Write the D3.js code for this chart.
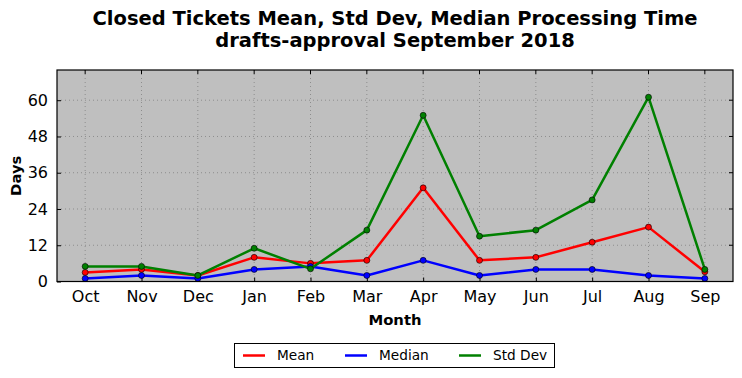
<!DOCTYPE html>
<html>
<head>
<meta charset="utf-8">
<script src="https://cdn.jsdelivr.net/npm/d3@7"></script>
<style>
  body { margin: 0; background: #fff; }
  svg { display: block; font-family: "DejaVu Sans", sans-serif; }
</style>
</head>
<body>
<svg width="742" height="378"></svg>
<script>
const months = ["Oct", "Nov", "Dec", "Jan", "Feb", "Mar", "Apr", "May", "Jun", "Jul", "Aug", "Sep"];
const meanValues = [3, 4, 2, 8, 6, 7, 31, 7, 8, 13, 18, 3.2];
const medianValues = [1, 2, 1, 4, 5, 2, 7, 2, 4, 4, 2, 1];
const stdDevValues = [5, 5, 2, 11, 4.2, 17, 55, 15, 17, 27, 61, 4];
const yTicks = [0, 12, 24, 36, 48, 60];

const series = [
  { name: "Mean", color: "#ff0000", values: meanValues },
  { name: "Median", color: "#0000ff", values: medianValues },
  { name: "Std Dev", color: "#008000", values: stdDevValues }
];

const svg = d3.select("svg");
const plotLeft = 57, plotRight = 733, plotTop = 70, plotBottom = 281.5;

const x = d3.scaleLinear().domain([-0.5, months.length - 0.5]).range([plotLeft, plotRight]);
const y = d3.scaleLinear().domain([0, 70]).range([plotBottom, plotTop]);

// plot background
svg.append("rect")
  .attr("x", plotLeft).attr("y", plotTop)
  .attr("width", plotRight - plotLeft).attr("height", plotBottom - plotTop)
  .attr("fill", "#bfbfbf");

// grid
const grid = svg.append("g");
grid.selectAll(".vg").data(months).enter().append("line")
  .attr("x1", (d, i) => x(i)).attr("x2", (d, i) => x(i))
  .attr("y1", plotTop).attr("y2", plotBottom)
  .attr("stroke", "#808080").attr("stroke-width", 0.8).attr("stroke-dasharray", "1,3");
grid.selectAll(".hg").data(yTicks).enter().append("line")
  .attr("x1", plotLeft).attr("x2", plotRight)
  .attr("y1", d => y(d)).attr("y2", d => y(d))
  .attr("stroke", "#808080").attr("stroke-width", 0.8).attr("stroke-dasharray", "1,3");

// axes
const xAxis = d3.axisBottom(x).tickValues(d3.range(months.length)).tickFormat(i => months[i])
  .tickSizeInner(-4).tickSizeOuter(0).tickPadding(9);
const yAxis = d3.axisLeft(y).tickValues(yTicks).tickSizeInner(-4).tickSizeOuter(0).tickPadding(9);

const gx = svg.append("g").attr("transform", `translate(0,${plotBottom})`).call(xAxis);
const gy = svg.append("g").attr("transform", `translate(${plotLeft},0)`).call(yAxis);
[gx, gy].forEach(g => {
  g.select(".domain").remove();
  g.selectAll("text").attr("font-size", 16).attr("fill", "#000").attr("font-family", "DejaVu Sans, sans-serif");
  g.selectAll("line").attr("stroke", "#000");
});

// ticks on top and right
svg.append("g").selectAll("line").data(months).enter().append("line")
  .attr("x1", (d, i) => x(i)).attr("x2", (d, i) => x(i))
  .attr("y1", plotTop).attr("y2", plotTop + 4).attr("stroke", "#000");
svg.append("g").selectAll("line").data(yTicks).enter().append("line")
  .attr("x1", plotRight).attr("x2", plotRight - 4)
  .attr("y1", d => y(d)).attr("y2", d => y(d)).attr("stroke", "#000");

// lines and markers
const line = d3.line().x((d, i) => x(i)).y(d => y(d));
series.forEach(s => {
  svg.append("path").datum(s.values)
    .attr("d", line).attr("fill", "none")
    .attr("stroke", s.color).attr("stroke-width", 2.5).attr("stroke-linejoin", "round");
  svg.append("g").selectAll("circle").data(s.values).enter().append("circle")
    .attr("cx", (d, i) => x(i)).attr("cy", d => y(d)).attr("r", 3)
    .attr("fill", s.color).attr("stroke", "#000").attr("stroke-width", 0.6);
});

// frame
svg.append("rect")
  .attr("x", plotLeft).attr("y", plotTop)
  .attr("width", plotRight - plotLeft).attr("height", plotBottom - plotTop)
  .attr("fill", "none").attr("stroke", "#000").attr("stroke-width", 1.2);

// title
svg.append("text").attr("x", 395).attr("y", 25).attr("text-anchor", "middle")
  .attr("font-size", 19.5).attr("font-weight", "bold").text("Closed Tickets Mean, Std Dev, Median Processing Time");
svg.append("text").attr("x", 395).attr("y", 47).attr("text-anchor", "middle")
  .attr("font-size", 19.5).attr("font-weight", "bold").text("drafts-approval September 2018");

// axis labels
svg.append("text").attr("x", 395).attr("y", 325).attr("text-anchor", "middle")
  .attr("font-size", 14.8).attr("font-weight", "bold").text("Month");
svg.append("text").attr("transform", `translate(21,${(plotTop + plotBottom) / 2}) rotate(-90)`)
  .attr("text-anchor", "middle").attr("font-size", 14.8).attr("font-weight", "bold").text("Days");

// legend
const legend = svg.append("g");
legend.append("rect").attr("x", 234.5).attr("y", 343.5).attr("width", 320).attr("height", 24)
  .attr("fill", "#fff").attr("stroke", "#000").attr("stroke-width", 1);
const legendX = [243, 345, 459];
series.forEach((s, i) => {
  legend.append("line").attr("x1", legendX[i]).attr("x2", legendX[i] + 22)
    .attr("y1", 355.5).attr("y2", 355.5).attr("stroke", s.color).attr("stroke-width", 2.5);
  legend.append("text").attr("x", legendX[i] + 34).attr("y", 360)
    .attr("font-size", 13.7).text(s.name);
});
</script>
</body>
</html>
